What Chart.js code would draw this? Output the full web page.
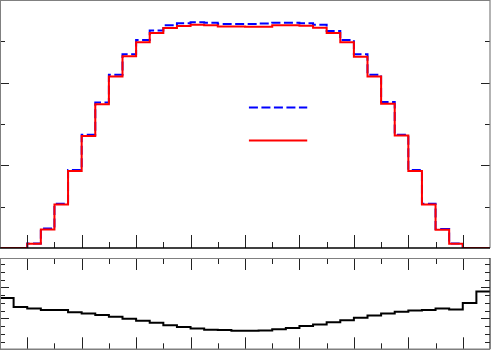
<!DOCTYPE html>
<html>
<head>
<meta charset="utf-8">
<script src="https://cdn.jsdelivr.net/npm/chart.js@4.4.1/dist/chart.umd.min.js"></script>
<style>
    html, body { margin: 0; padding: 0; background: #ffffff; }
    #wrap { position: relative; width: 500px; height: 350px; overflow: hidden; }
    #mainChart { position: absolute; left: 0; top: 0; }
    #ratioChart { position: absolute; left: 0; top: 258px; }
</style>
</head>
<body>
<div id="wrap">
    <canvas id="mainChart" width="500" height="252"></canvas>
    <canvas id="ratioChart" width="500" height="92"></canvas>
</div>
<script>
// bin edges of the histograms (36 bins)
var binEdges = [-4.5, -4.25, -4, -3.75, -3.5, -3.25, -3, -2.75, -2.5, -2.25, -2, -1.75,
    -1.5, -1.25, -1, -0.75, -0.5, -0.25, 0, 0.25, 0.5, 0.75, 1, 1.25, 1.5, 1.75, 2, 2.25,
    2.5, 2.75, 3, 3.25, 3.5, 3.75, 4, 4.25, 4.5];

// upper panel: two histograms
var blueValues = [0, 0, 0.11, 0.47, 1.07, 1.89, 2.74, 3.52, 4.19, 4.69, 5.03, 5.26,
    5.39, 5.44, 5.46, 5.45, 5.42, 5.42, 5.42, 5.43, 5.45, 5.45, 5.44, 5.40,
    5.25, 5.03, 4.69, 4.19, 3.53, 2.74, 1.89, 1.07, 0.46, 0.11, 0, 0];
var redValues = [0, 0, 0.10, 0.45, 1.05, 1.86, 2.71, 3.48, 4.15, 4.64, 4.98, 5.20,
    5.32, 5.37, 5.40, 5.39, 5.36, 5.36, 5.35, 5.35, 5.39, 5.39, 5.38, 5.33,
    5.20, 4.98, 4.63, 4.15, 3.49, 2.72, 1.86, 1.05, 0.44, 0.10, 0, 0];

// lower panel: ratio
var ratioValues = [0.966, 0.937, 0.932, 0.927, 0.927, 0.920, 0.916, 0.911, 0.905, 0.899,
    0.892, 0.886, 0.878, 0.872, 0.867, 0.863, 0.862, 0.860, 0.860, 0.861, 0.865, 0.869,
    0.875, 0.880, 0.887, 0.894, 0.902, 0.909, 0.916, 0.921, 0.925, 0.927, 0.932, 0.929,
    0.950, 0.987];

// tick positions (no labels in the reference)
var xMajorTicks = [-4, -3, -2, -1, 0, 1, 2, 3, 4];
var xMinorTicks = [-3.5, -2.5, -1.5, -0.5, 0.5, 1.5, 2.5, 3.5];
var mainYMajorTicks = [2, 4];
var mainYMinorTicks = [1, 3, 5];
var ratioYMajorTicks = [0.9, 1.0];
var ratioYMinorTicks = [0.825, 0.85, 0.875, 0.925, 0.95, 0.975, 1.025, 1.05, 1.075];

// histogram outline: two corners per bin
function stepPoints(values) {
    var pts = [];
    values.forEach(function (v, i) {
        pts.push({ x: binEdges[i], y: v });
        pts.push({ x: binEdges[i + 1], y: v });
    });
    return pts;
}

// frame, inner ticks and legend lines, ROOT style
var rootFrame = {
    id: "rootFrame",
    afterDatasetsDraw: function (chart, args, opts) {
        var ctx = chart.ctx;
        var a = chart.chartArea;
        var xs = chart.scales.x;
        var ys = chart.scales.y;
        ctx.save();

        ctx.lineWidth = 1;
        ctx.strokeStyle = "#222222";
        ctx.beginPath();
        function xTick(v, len) {
            var px = Math.round(xs.getPixelForValue(v)) + 0.5;
            if (opts.bottomTicks) { ctx.moveTo(px, a.bottom); ctx.lineTo(px, a.bottom - len); }
            if (opts.topTicks) { ctx.moveTo(px, a.top); ctx.lineTo(px, a.top + len); }
        }
        function yTick(v, len) {
            var py = Math.round(ys.getPixelForValue(v)) + 0.5;
            ctx.moveTo(a.left, py); ctx.lineTo(a.left + len, py);
            ctx.moveTo(a.right, py); ctx.lineTo(a.right - len, py);
        }
        opts.xMajor.forEach(function (v) { xTick(v, opts.xLong); });
        opts.xMinor.forEach(function (v) { xTick(v, opts.xShort); });
        opts.yMajor.forEach(function (v) { yTick(v, 9); });
        opts.yMinor.forEach(function (v) { yTick(v, 5); });
        ctx.stroke();

        function side(x1, y1, x2, y2, color, w) {
            ctx.beginPath();
            ctx.strokeStyle = color;
            ctx.lineWidth = w;
            ctx.moveTo(x1, y1);
            ctx.lineTo(x2, y2);
            ctx.stroke();
        }
        side(a.left + 0.5, a.top + 0.5, a.right, a.top + 0.5, "#808080", 1);
        side(a.left + 0.5, a.top, a.left + 0.5, a.bottom, "#808080", 1);
        side(a.right, a.top, a.right, a.bottom, opts.rightColor, 1.2);
        side(a.left, a.bottom, a.right, a.bottom, opts.bottomColor, 1.5);

        if (opts.legend) {
            var w = a.right - a.left;
            var h = a.bottom - a.top;
            var lx1 = a.left + w * 0.508;
            var lx2 = a.left + w * 0.627;
            ctx.lineWidth = 2;
            ctx.setLineDash([9, 3.5]);
            side(lx1, a.top + h * 0.433, lx2, a.top + h * 0.433, "#0000ff", 2);
            ctx.setLineDash([]);
            side(lx1, a.top + h * 0.567, lx2, a.top + h * 0.567, "#ff0000", 2);
        }
        ctx.restore();
    }
};

function baseOptions(yMin, yMax, pad, frameOpts) {
    return {
        responsive: false,
        animation: false,
        layout: { padding: pad },
        elements: {
            point: { radius: 0 },
            line: { tension: 0, borderJoinStyle: "miter", borderCapStyle: "butt" }
        },
        scales: {
            x: { type: "linear", min: -4.5, max: 4.5, display: false },
            y: { type: "linear", min: yMin, max: yMax, display: false }
        },
        plugins: {
            legend: { display: false },
            tooltip: { enabled: false },
            rootFrame: frameOpts
        }
    };
}

new Chart(document.getElementById("mainChart").getContext("2d"), {
    type: "line",
    data: {
        datasets: [
            {
                label: "red",
                data: stepPoints(redValues),
                borderColor: "#ff0000",
                borderWidth: 2,
                clip: 0
            },
            {
                label: "blue",
                data: stepPoints(blueValues),
                borderColor: "#0000ff",
                borderWidth: 2,
                borderDash: [9, 3.5],
                clip: 0
            }
        ]
    },
    options: baseOptions(0, 6, { left: 0, top: 0, right: 10, bottom: 4 }, {
        xMajor: xMajorTicks, xMinor: xMinorTicks,
        yMajor: mainYMajorTicks, yMinor: mainYMinorTicks,
        xLong: 13, xShort: 6,
        bottomTicks: true, topTicks: false,
        rightColor: "#808080", bottomColor: "#000000",
        legend: true
    }),
    plugins: [rootFrame]
});

new Chart(document.getElementById("ratioChart").getContext("2d"), {
    type: "line",
    data: {
        datasets: [
            {
                label: "ratio",
                data: stepPoints(ratioValues),
                borderColor: "#000000",
                borderWidth: 2,
                clip: 0
            }
        ]
    },
    options: baseOptions(0.8, 1.095, { left: 0, top: 0, right: 10, bottom: 0.7 }, {
        xMajor: xMajorTicks, xMinor: xMinorTicks,
        yMajor: ratioYMajorTicks, yMinor: ratioYMinorTicks,
        xLong: 12, xShort: 6,
        bottomTicks: true, topTicks: true,
        rightColor: "#333333", bottomColor: "#808080",
        legend: false
    }),
    plugins: [rootFrame]
});
</script>
</body>
</html>
